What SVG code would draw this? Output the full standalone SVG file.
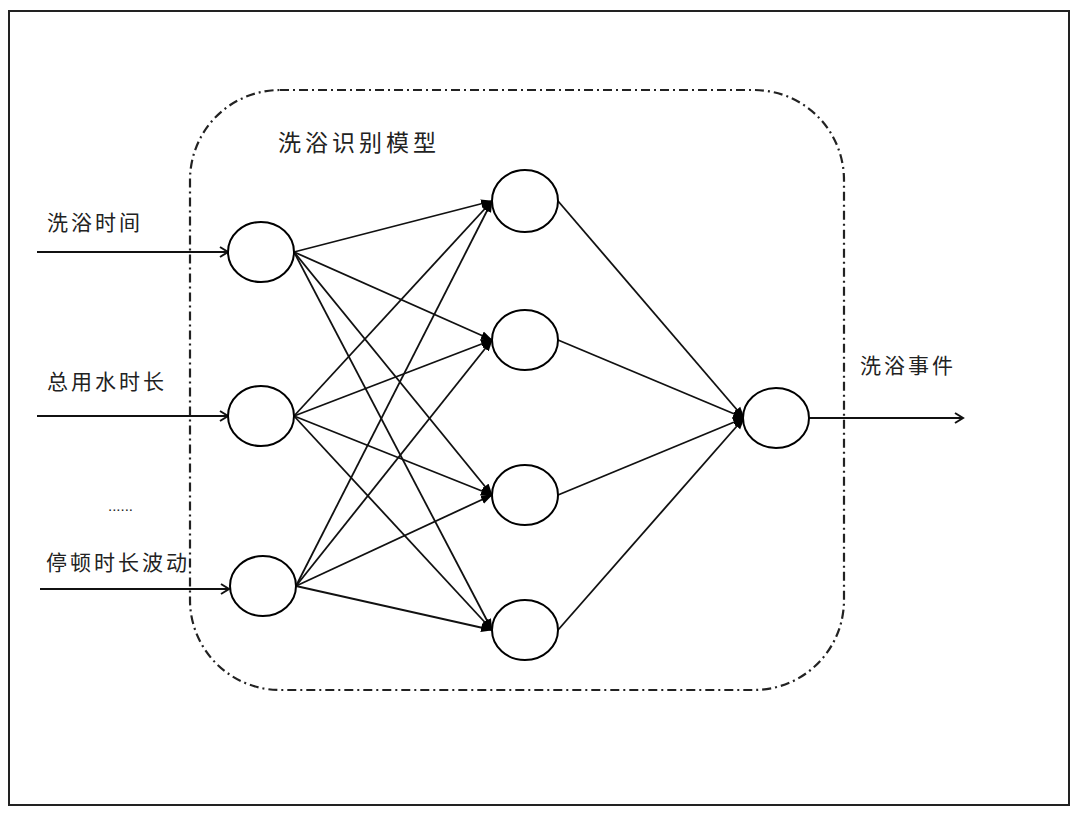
<svg xmlns="http://www.w3.org/2000/svg" width="1080" height="815" viewBox="0 0 1080 815">
<style>
.node{fill:#fff;stroke:#000;stroke-width:2}
.edge{stroke:#111;stroke-width:1.8;fill:none}
.io{stroke:#111;stroke-width:2.2;fill:none}
.lbl{font-family:"Liberation Sans","Noto Sans CJK SC",sans-serif;fill:#222;letter-spacing:3px}
</style>
<defs>
<marker id="open" markerWidth="12" markerHeight="12" refX="10" refY="6" orient="auto" markerUnits="userSpaceOnUse">
<path d="M2,1 L10,6 L2,11" fill="none" stroke="#111" stroke-width="2"/>
</marker>
<marker id="fill" markerWidth="12" markerHeight="10" refX="11" refY="5" orient="auto" markerUnits="userSpaceOnUse">
<path d="M0,0.5 L12,5 L0,9.5 Z" fill="#000"/>
</marker>
</defs>
<rect x="0" y="0" width="1080" height="815" fill="#fff"/>
<rect x="9" y="11" width="1060" height="794" fill="none" stroke="#222" stroke-width="2"/>
<rect x="190" y="90" width="654" height="600" rx="90" ry="90" fill="none" stroke="#222" stroke-width="2.2" stroke-dasharray="9 4 2 4"/>
<text class="lbl" x="278" y="151" font-size="23" style="letter-spacing:4px">洗浴识别模型</text>
<text class="lbl" x="47" y="230" font-size="21">洗浴时间</text>
<text class="lbl" x="47" y="389" font-size="21">总用水时长</text>
<text class="lbl" x="108" y="511" font-size="15" style="letter-spacing:0">......</text>
<text class="lbl" x="46" y="570" font-size="21">停顿时长波动</text>
<text class="lbl" x="860" y="373" font-size="21">洗浴事件</text>
<g id="connectors">
<line class="io" x1="37" y1="252" x2="228" y2="252" marker-end="url(#open)"/>
<line class="io" x1="37" y1="416" x2="228" y2="416" marker-end="url(#open)"/>
<line class="io" x1="40" y1="589" x2="229" y2="589" marker-end="url(#open)"/>
<line class="io" x1="809" y1="418" x2="963" y2="418" marker-end="url(#open)"/>
<line class="edge" x1="294" y1="252" x2="492" y2="201" marker-end="url(#fill)"/>
<line class="edge" x1="294" y1="252" x2="492" y2="340" marker-end="url(#fill)"/>
<line class="edge" x1="294" y1="252" x2="492" y2="495" marker-end="url(#fill)"/>
<line class="edge" x1="294" y1="252" x2="492" y2="630" marker-end="url(#fill)"/>
<line class="edge" x1="294" y1="416" x2="492" y2="201" marker-end="url(#fill)"/>
<line class="edge" x1="294" y1="416" x2="492" y2="340" marker-end="url(#fill)"/>
<line class="edge" x1="294" y1="416" x2="492" y2="495" marker-end="url(#fill)"/>
<line class="edge" x1="294" y1="416" x2="492" y2="630" marker-end="url(#fill)"/>
<line class="edge" x1="296" y1="586" x2="492" y2="201" marker-end="url(#fill)"/>
<line class="edge" x1="296" y1="586" x2="492" y2="340" marker-end="url(#fill)"/>
<line class="edge" x1="296" y1="586" x2="492" y2="495" marker-end="url(#fill)"/>
<line class="edge" x1="296" y1="586" x2="492" y2="630" marker-end="url(#fill)"/>
<line class="edge" x1="558" y1="201" x2="744" y2="418" marker-end="url(#fill)"/>
<line class="edge" x1="558" y1="340" x2="744" y2="418" marker-end="url(#fill)"/>
<line class="edge" x1="558" y1="495" x2="744" y2="418" marker-end="url(#fill)"/>
<line class="edge" x1="558" y1="630" x2="744" y2="418" marker-end="url(#fill)"/>
</g>
<g id="in1"><ellipse class="node" cx="261" cy="252" rx="33" ry="30"/></g>
<g id="in2"><ellipse class="node" cx="261" cy="416" rx="33" ry="30"/></g>
<g id="in3"><ellipse class="node" cx="263" cy="586" rx="33" ry="30"/></g>
<g id="h1"><ellipse class="node" cx="525" cy="201" rx="33" ry="31"/></g>
<g id="h2"><ellipse class="node" cx="525" cy="340" rx="33" ry="30"/></g>
<g id="h3"><ellipse class="node" cx="525" cy="495" rx="33" ry="30"/></g>
<g id="h4"><ellipse class="node" cx="525" cy="630" rx="33" ry="30"/></g>
<g id="out"><ellipse class="node" cx="776" cy="418" rx="33" ry="30"/></g>
</svg>
